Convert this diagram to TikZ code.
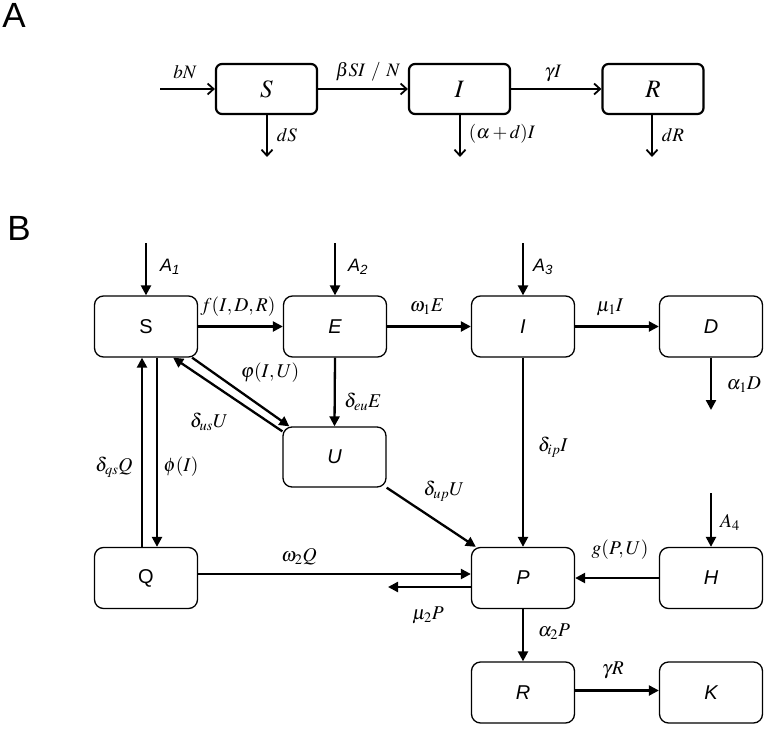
\documentclass[tikz,border=0pt]{standalone}
\usepackage{mathptmx}
\usepackage[no-math]{fontspec}
\setsansfont{Liberation Sans}
\usetikzlibrary{arrows.meta,calc}
\newcommand\lblA{\fontsize{19}{21}\selectfont}
\newcommand\lblB{\fontsize{19.5}{22}\selectfont}
\tikzset{
  boxA/.style={draw,line width=2.2pt,rounded corners=6pt,minimum width=101pt,minimum height=50pt,inner sep=0pt,font=\fontsize{25}{27}\selectfont},
  boxB/.style={draw,line width=1.3pt,rounded corners=9pt,minimum width=103pt,minimum height=61pt,inner sep=0pt,font=\fontsize{20}{22}\selectfont\sffamily},
  arrA/.style={line width=2.3pt,-{Straight Barb[length=6pt,width=11pt,line width=1.8pt]}},
  arrB/.style={line width=2.3pt,-{Triangle[length=10pt,width=10pt]}},
  lab/.style={inner sep=0pt,font=\lblB},
  labA/.style={inner sep=0pt,font=\lblA},
  panel/.style={inner sep=0pt,font=\fontsize{35}{37}\selectfont\sffamily}
}
\begin{document}
\begin{tikzpicture}[x=1pt,y=-1pt]
\useasboundingbox (0,0) rectangle (781,733);
% panel letters
\node[panel] (pA) at (14,15) {A};
\node[panel] (pB) at (19,228) {B};
% ---------- Panel A ----------
\node[boxA] (SA) at (266.5,89) {$S$};
\node[boxA] (IA) at (459.5,89) {$I$};
\node[boxA] (RA) at (653,89) {$R$};
\coordinate (inA) at (160,89);
\coordinate (dSe) at (267,157);
\coordinate (dIe) at (460,157);
\coordinate (dRe) at (652,157);
\draw[arrA] (inA) -- (SA.west);
\draw[arrA] (SA.east) -- (IA.west);
\draw[arrA] (IA.east) -- (RA.west);
\draw[arrA] (SA.south -| dSe) -- (dSe);
\draw[arrA] (IA.south -| dIe) -- (dIe);
\draw[arrA] (RA.south -| dRe) -- (dRe);
\node[labA] (lbN) at (185,72) {$bN$};
\node[labA] (lbeta) at (368,72) {$\beta SI\ /\ N$};
\node[labA] (lgam) at (553,73) {$\gamma I$};
\node[labA] (ldS) at (287,135) {$dS$};
\node[labA] (lad) at (502,134) {$(\alpha+d)I$};
\node[labA] (ldR) at (673,135) {$dR$};
% ---------- Panel B ----------
\node[boxB] (S) at (146,326.5) {S};
\node[boxB] (E) at (335,326.5) {\itshape E};
\node[boxB] (I) at (523,326.5) {\itshape I};
\node[boxB] (D) at (711,326.5) {\itshape D};
\node[boxB,minimum height=60pt] (U) at (334.5,457) {\itshape U};
\node[boxB] (Q) at (146,578) {Q};
\node[boxB] (P) at (523,578) {\itshape P};
\node[boxB] (H) at (711,578) {\itshape H};
\node[boxB] (R) at (523,692.5) {\itshape R};
\node[boxB] (K) at (711,692.5) {\itshape K};
\coordinate (a1) at (146,243);
\coordinate (a2) at (335,243);
\coordinate (a3) at (523,243);
\coordinate (a4) at (711,493);
\coordinate (dD) at (711,410);
\coordinate (muP) at (388,587);
% inflows
\draw[arrB] (a1) -- (S.north);
\draw[arrB] (a2) -- (E.north);
\draw[arrB] (a3) -- (I.north);
\draw[arrB] (a4) -- (H.north);
% horizontal flows
\draw[arrB] (S.east) -- (E.west);
\draw[arrB] (E.east) -- (I.west);
\draw[arrB] (I.east) -- (D.west);
\draw[arrB] (D.south) -- (dD);
\draw[arrB] (E.south) -- (U.north);
\draw[arrB] (I.south) -- (P.north);
% S <-> U
\draw[arrB] ($(S.south east)+(-6,0)$) -- ($(U.north west)+(7,0)$);
\draw[arrB] ($(U.north west)+(0,5)$) -- ($(S.south east)+(-25,0)$);
% U -> P
\draw[arrB] (U.south east) -- ($(P.north west)+(5,0)$);
% S <-> Q
\draw[arrB] ($(Q.north)+(-4,0)$) -- ($(S.south)+(-4,0)$);
\draw[arrB] ($(S.south)+(11,0)$) -- ($(Q.north)+(11,0)$);
% Q -> P, P -> out
\draw[arrB] ($(Q.east)+(0,-4)$) -- ($(P.west)+(0,-4)$);
\draw[arrB] ($(P.west)+(0,9)$) -- (muP);
\draw[arrB] (H.west) -- (P.east);
\draw[arrB] (P.south) -- (R.north);
\draw[arrB] ($(R.east)+(0,-2)$) -- ($(K.west)+(0,-2)$);
% labels
\node[lab,font=\fontsize{18}{20}\selectfont\sffamily\itshape] (lA1) at (170,267) {A\textsubscript{1}};
\node[lab,font=\fontsize{18}{20}\selectfont\sffamily\itshape] (lA2) at (358,267) {A\textsubscript{2}};
\node[lab,font=\fontsize{18}{20}\selectfont\sffamily\itshape] (lA3) at (543,267) {A\textsubscript{3}};
\node[lab] (lA4) at (730,522) {$A_4$};
\node[lab] (lf) at (238,307) {$f(I,D,R)$};
\node[lab] (lw1) at (427,307) {$\omega_{1}E$};
\node[lab] (lm1) at (610,307) {$\mu_{1}I$};
\node[lab] (la1) at (744,385) {$\alpha_{1}D$};
\node[lab] (lphiIU) at (270,373) {$\varphi(I,U)$};
\node[lab] (leu) at (363,402) {$\delta_{eu}E$};
\node[lab] (lus) at (209,422) {$\delta_{us}U$};
\node[lab] (lip) at (553,447) {$\delta_{ip}I$};
\node[lab] (lup) at (444,491) {$\delta_{up}U$};
\node[lab] (lqs) at (114,467) {$\delta_{qs}Q$};
\node[lab] (lphiI) at (181,467) {$\phi(I)$};
\node[lab] (lw2) at (299,557) {$\omega_{2}Q$};
\node[lab] (lm2) at (428,615) {$\mu_{2}P$};
\node[lab] (lg) at (620,550) {$g(P,U)$};
\node[lab] (la2) at (554,632) {$\alpha_{2}P$};
\node[lab] (lgR) at (613,670) {$\gamma R$};
\end{tikzpicture}
\end{document}
